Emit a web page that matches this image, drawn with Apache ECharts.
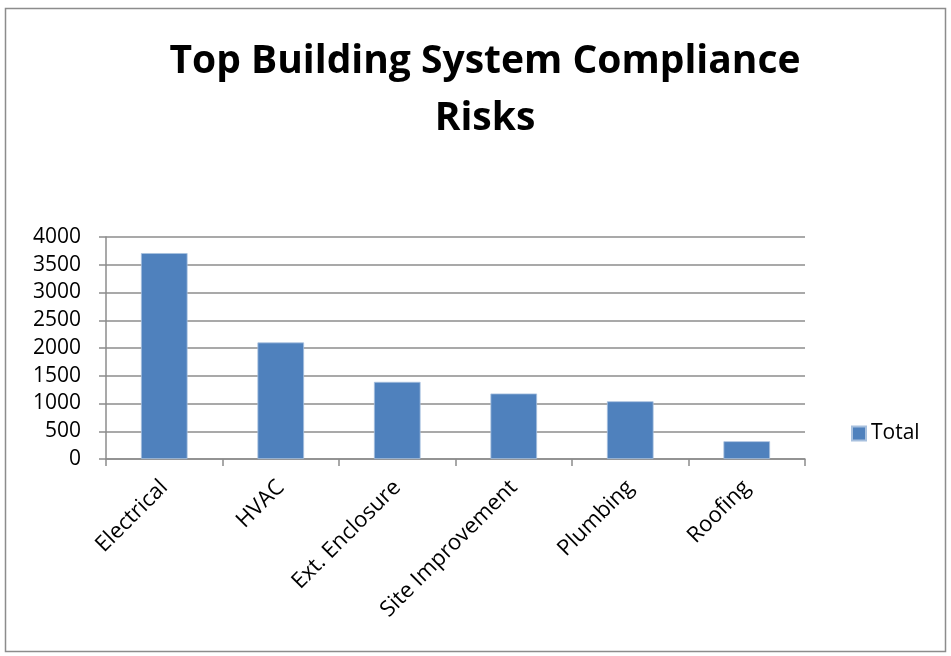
<!DOCTYPE html>
<html>
<head>
<meta charset="utf-8">
<style>
  html, body { margin: 0; padding: 0; background: #fff; }
  #chart { width: 951px; height: 656px; }
</style>
<script src="https://cdn.jsdelivr.net/npm/echarts@6/dist/echarts.min.js"></script>
</head>
<body>
<div id="chart"></div>
<script>
const categories = ['Electrical', 'HVAC', 'Ext. Enclosure', 'Site Improvement', 'Plumbing', 'Roofing'];
const totals = [3710, 2100, 1390, 1180, 1040, 320];
const yTicks = [0, 500, 1000, 1500, 2000, 2500, 3000, 3500, 4000];

const FONT = '"Open Sans", "Noto Sans", sans-serif';
const chart = echarts.init(document.getElementById('chart'), null, { renderer: 'canvas' });

chart.setOption({
  backgroundColor: '#fff',
  animation: false,
  graphic: [{
    type: 'rect',
    shape: { x: 5.5, y: 8.5, width: 940, height: 643 },
    style: { fill: 'none', stroke: '#8c8c8c', lineWidth: 1.5 },
    silent: true
  }],
  title: {
    text: 'Top Building System Compliance\nRisks',
    left: 480,
    top: 28,
    textAlign: 'center',
    textStyle: {
      fontFamily: FONT,
      fontWeight: 'bold',
      fontSize: 39,
      lineHeight: 57,
      color: '#000'
    }
  },
  legend: {
    data: ['Total'],
    left: 846,
    top: 418,
    itemWidth: 14,
    itemHeight: 14,
    itemGap: 6,
    icon: 'rect',
    textStyle: { fontFamily: FONT, fontSize: 21, color: '#000' }
  },
  grid: { left: 106, right: 146, top: 237, bottom: 197, containLabel: false },
  xAxis: {
    type: 'category',
    data: categories,
    axisLine: { show: true, lineStyle: { color: '#8c8c8c', width: 1.5 } },
    axisTick: { show: true, alignWithLabel: false, length: 7, lineStyle: { color: '#8c8c8c', width: 1.5 } },
    axisLabel: {
      interval: 0,
      rotate: 45,
      margin: 25,
      fontFamily: FONT,
      fontSize: 22,
      color: '#000'
    }
  },
  yAxis: {
    type: 'value',
    min: 0,
    max: 4000,
    interval: 500,
    axisLine: { show: true, lineStyle: { color: '#8c8c8c', width: 1.5 } },
    axisTick: { show: true, length: 7, lineStyle: { color: '#8c8c8c', width: 1.5 } },
    splitLine: { show: true, lineStyle: { color: '#8c8c8c', width: 1.5 } },
    axisLabel: {
      margin: 25,
      fontFamily: FONT,
      fontSize: 21,
      color: '#000',
      formatter: v => (yTicks.includes(v) ? String(v) : '')
    }
  },
  series: [{
    name: 'Total',
    type: 'bar',
    data: totals,
    barWidth: '40%',
    itemStyle: { color: '#4f81bd', borderColor: '#a7c0de', borderWidth: 0.8 }
  }]
});
</script>
</body>
</html>
